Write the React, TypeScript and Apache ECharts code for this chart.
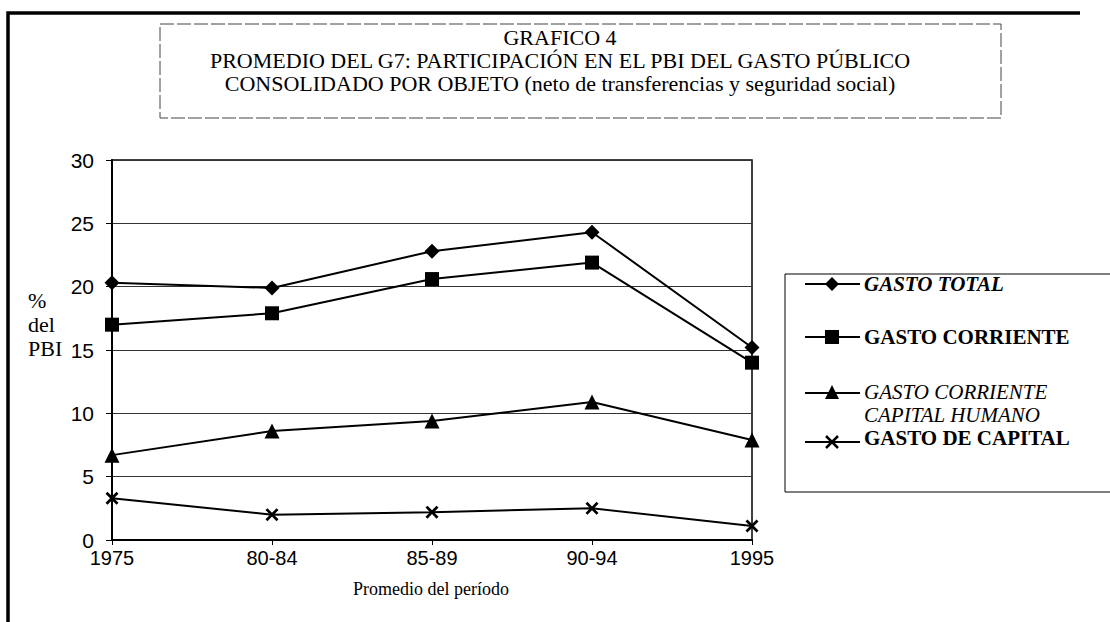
import React, { useEffect, useRef } from "react";
import * as echarts from "echarts";

const categories = ["1975", "80-84", "85-89", "90-94", "1995"];
const gastoTotal = [20.3, 19.9, 22.8, 24.3, 15.2];
const gastoCorriente = [17.0, 17.9, 20.6, 21.9, 14.0];
const gastoCapitalHumano = [6.7, 8.6, 9.4, 10.9, 7.9];
const gastoCapital = [3.3, 2.0, 2.2, 2.5, 1.1];

const titleLines = [
  "GRAFICO 4",
  "PROMEDIO DEL G7: PARTICIPACIÓN EN EL PBI DEL GASTO PÚBLICO",
  "CONSOLIDADO POR OBJETO (neto de transferencias y seguridad social)",
];
const yNameLines = ["%", "del", "PBI"];
const xName = "Promedio del período";

const X_PATH =
  "path://M0,1.5 L1.5,0 L5,3.5 L8.5,0 L10,1.5 L6.5,5 L10,8.5 L8.5,10 L5,6.5 L1.5,10 L0,8.5 L3.5,5 Z";

const SERIF = "'Liberation Serif', 'Times New Roman', serif";
const SANS = "'Liberation Sans', Arial, sans-serif";

export default function App() {
  const ref = useRef<HTMLDivElement>(null);
  useEffect(() => {
    document.body.style.margin = "0";
    const chart = echarts.init(ref.current!, null, { renderer: "svg" });
    const mkSeries = (name: string, data: number[], symbol: string, size: number) => ({
      name,
      type: "line",
      data,
      symbol,
      symbolSize: size,
      lineStyle: { color: "#000", width: 2 },
      itemStyle: { color: "#000" },
      z: 5,
    });

    const symbolGraphic = (sym: string, cx: number, cy: number): any => {
      if (sym === "diamond")
        return {
          type: "polygon",
          shape: { points: [[cx, cy - 7], [cx + 7, cy], [cx, cy + 7], [cx - 7, cy]] },
          style: { fill: "#000" },
        };
      if (sym === "square")
        return { type: "rect", shape: { x: cx - 7, y: cy - 7, width: 14, height: 14 }, style: { fill: "#000" } };
      if (sym === "triangle")
        return {
          type: "polygon",
          shape: { points: [[cx, cy - 8], [cx + 7, cy + 6], [cx - 7, cy + 6]] },
          style: { fill: "#000" },
        };
      return {
        type: "group",
        children: [
          { type: "line", shape: { x1: cx - 6, y1: cy - 6, x2: cx + 6, y2: cy + 6 }, style: { stroke: "#000", lineWidth: 2.5 } },
          { type: "line", shape: { x1: cx + 6, y1: cy - 6, x2: cx - 6, y2: cy + 6 }, style: { stroke: "#000", lineWidth: 2.5 } },
        ],
      };
    };

    const legendSymbols = [
      { y: 284, sym: "diamond" },
      { y: 337, sym: "square" },
      { y: 393, sym: "triangle" },
      { y: 442, sym: "x" },
    ];
    const legendTexts = [
      { text: "GASTO TOTAL", y: 284, fontWeight: "bold", fontStyle: "italic" },
      { text: "GASTO CORRIENTE", y: 337, fontWeight: "bold", fontStyle: "normal" },
      { text: "GASTO CORRIENTE", y: 392, fontWeight: "normal", fontStyle: "italic" },
      { text: "CAPITAL HUMANO", y: 415, fontWeight: "normal", fontStyle: "italic" },
      { text: "GASTO DE CAPITAL", y: 438, fontWeight: "bold", fontStyle: "normal" },
    ];
    const legendGraphics: any[] = [];
    legendSymbols.forEach((it) => {
      legendGraphics.push({
        type: "line",
        shape: { x1: 805, y1: it.y, x2: 860, y2: it.y },
        style: { stroke: "#000", lineWidth: 2 },
      });
      legendGraphics.push(symbolGraphic(it.sym, 832, it.y));
    });
    legendTexts.forEach((t) => {
      legendGraphics.push({
        type: "text",
        x: 864,
        y: t.y,
        style: {
          text: t.text,
          font: `${t.fontStyle} ${t.fontWeight} 21px ${SERIF}`,
          fill: "#000",
          verticalAlign: "middle",
          align: "left",
        },
      });
    });

    chart.setOption({
      animation: false,
      backgroundColor: "#fff",
      grid: {
        left: 112,
        right: 358,
        top: 160,
        bottom: 82,
        show: true,
        borderColor: "#000",
        borderWidth: 1.5,
      },
      xAxis: {
        type: "category",
        data: categories,
        boundaryGap: false,
        axisLine: { lineStyle: { color: "#000", width: 2 } },
        axisTick: { show: true, length: 5, lineStyle: { color: "#000" } },
        axisLabel: { color: "#000", fontFamily: SANS, fontSize: 20, margin: 8 },
        splitLine: { show: false },
      },
      yAxis: {
        type: "value",
        min: 0,
        max: 30,
        interval: 5,
        axisLine: { show: true, lineStyle: { color: "#000", width: 2 } },
        axisTick: { show: true, length: 6, lineStyle: { color: "#000" } },
        axisLabel: { color: "#000", fontFamily: SANS, fontSize: 21, margin: 18 },
        splitLine: { show: true, lineStyle: { color: "#333", width: 1 } },
      },
      series: [
        mkSeries("GASTO TOTAL", gastoTotal, "diamond", 15),
        mkSeries("GASTO CORRIENTE", gastoCorriente, "rect", 14),
        mkSeries("GASTO CORRIENTE CAPITAL HUMANO", gastoCapitalHumano, "triangle", 15),
        mkSeries("GASTO DE CAPITAL", gastoCapital, X_PATH, 13),
      ],
      graphic: [
        // outer frame
        {
          type: "polyline",
          shape: { points: [[8, 622], [8, 13], [1080, 13]] },
          style: { stroke: "#000", lineWidth: 3.5, fill: "none" },
        },
        // title box
        {
          type: "rect",
          shape: { x: 160, y: 24, width: 841, height: 94 },
          style: { stroke: "#444", lineWidth: 1, fill: "none", lineDash: [14, 3] },
        },
        ...titleLines.map((t, i) => ({
          type: "text",
          x: 560,
          y: 37 + i * 23,
          style: { text: t, font: `22px ${SERIF}`, fill: "#000", align: "center", verticalAlign: "middle" },
        })),
        // y-axis name
        ...yNameLines.map((t, i) => ({
          type: "text",
          x: 28,
          y: 300 + i * 24,
          style: { text: t, font: `22px ${SERIF}`, fill: "#000", align: "left", verticalAlign: "middle" },
        })),
        // x-axis name
        {
          type: "text",
          x: 431,
          y: 589,
          style: { text: xName, font: `18px ${SERIF}`, fill: "#000", align: "center", verticalAlign: "middle" },
        },
        // legend box
        {
          type: "rect",
          shape: { x: 785, y: 274, width: 340, height: 218 },
          style: { stroke: "#000", lineWidth: 1, fill: "#fff" },
        },
        ...legendGraphics,
      ],
    });
    return () => chart.dispose();
  }, []);
  return <div ref={ref} style={{ width: 1110, height: 622 }} />;
}
